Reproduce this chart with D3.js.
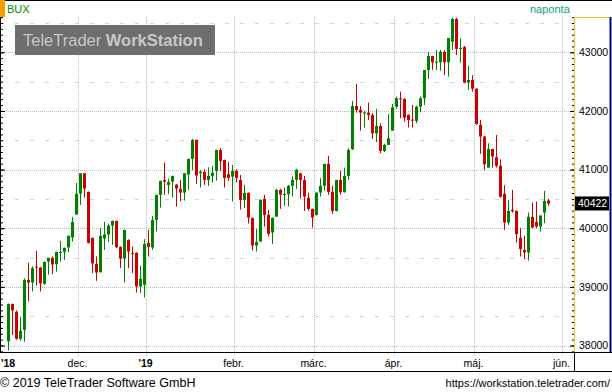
<!DOCTYPE html>
<html>
<head>
<meta charset="utf-8">
<script src="https://cdn.jsdelivr.net/npm/d3@7"></script>
<style>
  body { margin: 0; background: #fff; }
  svg { display: block; font-family: Arial, "Liberation Sans", sans-serif; }
</style>
</head>
<body>
<script>
// BUX daily candles, Nov 2018 - May 2019
const opens = [38070,38710,38575,38115,38268,39120,39075,39342,39330,39052,39433,39495,39387,39580,39597,39671,39842,40233,40591,40938,
  40620,39836,39393,39250,39824,39892,40046,40125,39682,39483,39801,39580,39580,39006,39035,39750,39671,40142,40568,40824,
  40738,40795,40744,40670,40608,40915,41182,41506,40938,40960,40824,40892,40978,41335,41165,40921,40881,40978,40824,40483,
  40603,40177,39705,39773,40500,40228,39927,40199,40654,40568,40580,40722,40824,40932,40824,40517,40330,40228,40608,40722,
  41097,40620,40296,40824,40614,40892,41347,42085,42017,41960,41972,41932,41619,41744,41318,41421,41665,42074,42216,42204,
  41932,41852,41830,42074,42216,42699,42937,42824,42829,43005,42829,43181,43568,43057,43090,42483,42528,42380,41761,41563,
  41034,41352,41210,41063,40586,40097,40313,40296,39836,39631,39586,40194,40108,40029,40268,40472];
const highs = [38715,38712,38598,38490,39143,39410,39347,39614,39335,39430,39495,39518,39600,39785,39670,39875,40194,40773,40940,40940,
  40625,39840,39520,40006,40108,40080,40130,40130,39690,39975,39810,39688,39590,39358,39813,39972,40210,40570,40810,41119,
  40841,40895,40756,40824,40940,41185,41523,41510,40994,41006,41040,41063,41340,41369,41170,41131,41080,41006,40909,40739,
  40610,40180,39989,40494,40569,40313,40180,40671,40671,40694,40739,40881,41012,40949,40892,40608,40335,40610,40853,41100,
  41233,40722,40826,40978,41034,41364,42170,42460,42085,42006,42142,41960,42034,41790,41440,41943,42119,42244,42329,42216,
  41940,42102,42090,42250,42699,43005,42940,43039,43039,43039,43244,43590,43590,43238,43108,42767,42613,42385,41847,41574,
  41449,41355,41591,41176,40733,40483,40654,40300,40001,39870,40268,40438,40455,40216,40637,40500];
const lows = [37915,38180,38098,38081,38064,38751,38921,39018,38921,39035,39205,39217,39262,39433,39461,39586,39773,40230,40398,40523,
  39739,39234,39103,39245,39631,39767,39716,39665,39324,39074,39319,39233,38904,38893,38819,39517,39631,39943,40352,40568,
  40585,40523,40369,40455,40472,40653,40994,40756,40694,40739,40722,40779,40813,40978,40694,40807,40455,40779,40319,40347,
  40080,39620,39603,39770,40029,39859,39734,40195,40330,40381,40370,40540,40671,40506,40296,40296,40012,40216,40540,40637,
  40569,40245,40285,40569,40608,40824,41335,41972,41665,41716,41847,41523,41466,41279,41300,41421,41665,42034,41875,41818,
  41716,41716,41790,41977,42102,42545,42699,42699,42687,42613,42585,43039,42954,42824,42471,42358,42329,41761,41267,40994,
  41034,41034,41034,40523,39972,40057,40268,39756,39518,39472,39450,40001,40001,39944,40086,40387];
const closes = [38710,38600,38115,38251,39120,39075,39319,39325,39058,39427,39495,39381,39597,39597,39665,39870,40109,40586,40938,40677,
  39751,39399,39245,39870,39892,40046,40125,39676,39483,39972,39603,39563,39006,39137,39733,39682,40142,40568,40807,40795,
  40790,40892,40676,40608,40937,41182,41505,40898,40966,40824,40892,40943,41335,41148,40858,40858,40978,40858,40483,40603,
  40182,39705,39768,40483,40228,39904,40177,40654,40574,40585,40722,40824,40995,40824,40540,40330,40182,40608,40722,41097,
  40620,40296,40824,40614,40892,41335,42085,42017,41972,41977,41932,41619,41744,41318,41421,41534,42062,42216,42200,41886,
  41847,41835,42074,42216,42699,42937,42829,42841,43011,42829,43244,43568,43057,43074,42483,42528,42380,41778,41563,41091,
  41352,41222,41063,40535,40097,40296,40290,39898,39643,39586,40194,40012,40029,40216,40466,40422];

const yTicks = [38000, 39000, 40000, 41000, 42000, 43000];
const yHalfTicks = [38500, 39500, 40500, 41500, 42500, 43500];
const monthLabels = ["dec.", "'19", "febr.", "márc.", "ápr.", "máj.", "jún."];
const monthStart = [17, 34, 56, 76, 96, 116, 138]; // index of first trading day
const lastPrice = 40422;

const W = 612, H = 392;
const plotTop = 17, plotBottom = 352, plotRight = 574;
const green = "#008000", red = "#cc0000";

const svg = d3.select("body").append("svg")
  .attr("width", W)
  .attr("height", H);

const y = d3.scaleLinear().domain([38000, 43000]).range([345.5, 52.3]);
const x = d3.scaleLinear().domain([0, 138]).range([8.5, 560.5]);
const px = v => Math.round(v) + 0.5;

// header
svg.append("line").attr("x1", 0).attr("x2", W).attr("y1", 0.5).attr("y2", 0.5).attr("stroke", "#000");
svg.append("rect").attr("x", 0).attr("y", 0).attr("width", 5).attr("height", plotTop).attr("fill", "#f59c00");
svg.append("text").attr("x", 7).attr("y", 13).attr("font-size", 11).attr("fill", "#008c00").text("BUX");
svg.append("text").attr("x", 530).attr("y", 13).attr("font-size", 11).attr("fill", "#10a070").text("naponta");

// grid
const grid = svg.append("g");
grid.selectAll(".hg").data(yTicks).join("line")
  .attr("x1", 0).attr("x2", plotRight)
  .attr("y1", d => px(y(d))).attr("y2", d => px(y(d)))
  .attr("stroke", "#bdbdbd").attr("stroke-dasharray", "1,1");
grid.selectAll(".hh").data(yHalfTicks).join("line")
  .attr("x1", 0).attr("x2", plotRight)
  .attr("y1", d => px(y(d))).attr("y2", d => px(y(d)))
  .attr("stroke", "#d4d4d4").attr("stroke-dasharray", "4,11");
grid.selectAll(".vg").data(monthStart).join("line")
  .attr("x1", d => px(x(d) + 1)).attr("x2", d => px(x(d) + 1))
  .attr("y1", plotTop).attr("y2", plotBottom + 5)
  .attr("stroke", "#bdbdbd").attr("stroke-dasharray", "1,1");

// logo
svg.append("rect").attr("x", 15).attr("y", 25).attr("width", 200).attr("height", 30).attr("fill", "#6e6e6e");
const logo = svg.append("text").attr("x", 23).attr("y", 46).attr("font-size", 16.5).attr("fill", "#c8c8c8");
logo.append("tspan").text("TeleTrader ");
logo.append("tspan").attr("font-weight", "bold").text("WorkStation");

// candles
const idx = d3.range(closes.length);
const candles = svg.append("g");
candles.selectAll("line").data(idx).join("line")
  .attr("x1", i => Math.floor(x(i)) + 0.5).attr("x2", i => Math.floor(x(i)) + 0.5)
  .attr("y1", i => y(highs[i])).attr("y2", i => y(lows[i]))
  .attr("stroke", i => closes[i] >= opens[i] ? green : red);
candles.selectAll("rect").data(idx).join("rect")
  .attr("x", i => Math.floor(x(i)) - 1)
  .attr("width", 3)
  .attr("y", i => y(Math.max(opens[i], closes[i])))
  .attr("height", i => Math.max(1, Math.abs(y(opens[i]) - y(closes[i]))))
  .attr("fill", i => closes[i] >= opens[i] ? green : red);

// left ticks
svg.append("g").attr("transform", "translate(0,0)")
  .call(d3.axisRight(y).tickValues(d3.range(37900, 43601, 100)).tickSize(3).tickFormat(""))
  .call(g => g.select(".domain").remove());
svg.append("g")
  .call(d3.axisRight(y).tickValues(yTicks).tickSize(5).tickFormat(""))
  .call(g => g.select(".domain").remove());
svg.append("line").attr("x1", 0.5).attr("x2", 0.5).attr("y1", plotTop).attr("y2", plotBottom).attr("stroke", "#000");

// right axis panel
svg.append("g").attr("transform", `translate(${plotRight},0)`)
  .call(d3.axisRight(y).tickValues(d3.range(37900, 43601, 100)).tickSize(-2).tickFormat(""))
  .call(g => g.select(".domain").remove());
svg.append("g").attr("transform", `translate(${plotRight},0)`)
  .call(d3.axisRight(y).tickValues(yTicks).tickSize(-4).tickPadding(5).tickFormat(d3.format("d")))
  .call(g => g.select(".domain").remove())
  .call(g => g.selectAll("text").attr("font-size", 10.5).attr("fill", "#000").attr("font-family", "Arial, 'Liberation Sans', sans-serif"));
svg.append("path")
  .attr("d", `M${plotRight + 0.5},${plotBottom}V${plotTop + 0.5}H${W - 2}`)
  .attr("fill", "none").attr("stroke", "#f0c030");
svg.append("line").attr("x1", W - 1.5).attr("x2", W - 1.5).attr("y1", plotTop).attr("y2", plotBottom)
  .attr("stroke", "#000080").attr("stroke-width", 2);

// last price
svg.append("rect").attr("x", 575).attr("y", y(lastPrice) - 7).attr("width", 34).attr("height", 14).attr("fill", "#000");
svg.append("text").attr("x", 578).attr("y", y(lastPrice) + 4).attr("font-size", 10.5).attr("fill", "#fff").text(lastPrice);

// date axis
svg.append("line").attr("x1", 0).attr("x2", W).attr("y1", plotBottom + 0.5).attr("y2", plotBottom + 0.5).attr("stroke", "#000");
svg.append("line").attr("x1", 0).attr("x2", W).attr("y1", 371.5).attr("y2", 371.5).attr("stroke", "#000");
svg.append("line").attr("x1", plotRight + 0.5).attr("x2", plotRight + 0.5).attr("y1", plotBottom).attr("y2", 372).attr("stroke", "#000");
svg.append("text").attr("x", 1).attr("y", 367).attr("font-size", 10.5).attr("font-weight", "bold").text("'18");
svg.append("g").selectAll("text").data(monthLabels).join("text")
  .attr("x", (d, i) => x(monthStart[i]) + 1)
  .attr("y", 367)
  .attr("text-anchor", "middle")
  .attr("font-size", 10.5)
  .attr("font-weight", d => d.startsWith("'") ? "bold" : null)
  .text(d => d);

// footer
svg.append("text").attr("x", 0).attr("y", 387).attr("font-size", 12.5).text("© 2019 TeleTrader Software GmbH");
svg.append("text").attr("x", 610).attr("y", 387).attr("text-anchor", "end").attr("font-size", 11).text("https://workstation.teletrader.com/");
</script>
</body>
</html>
